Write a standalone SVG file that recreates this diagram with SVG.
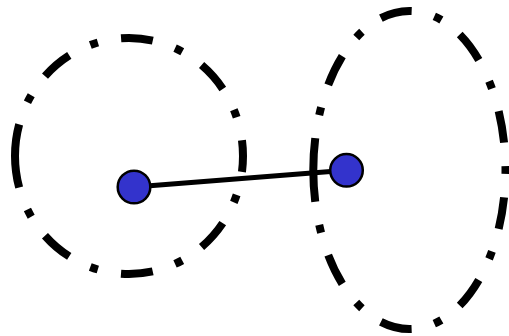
<svg xmlns="http://www.w3.org/2000/svg" width="509" height="336" viewBox="0 0 509 336">
  <style>
    .region { fill: none; stroke: #000; stroke-width: 8; stroke-linecap: butt; }
    .node { fill: #3333CC; stroke: #000; stroke-width: 2.5; }
    .edge { stroke: #000; stroke-width: 5; fill: none; }
  </style>
  <rect width="509" height="336" fill="#fff"/>
  <g id="region-left">
    <path class="region" pathLength="728.9" stroke-dasharray="32 23.56 8 23.56" d="M 15 156 A 114 118 0 1 1 243 156 A 114 118 0 1 1 15 156"/>
  </g>
  <g id="region-right">
    <path class="region" pathLength="813.7" stroke-dasharray="32 23.43 8 23.43" d="M 313.3 170 A 96.1 159 0 1 1 505.5 170 A 96.1 159 0 1 1 313.3 170"/>
  </g>
  <g id="connectors">
    <line class="edge" x1="134" y1="187" x2="346.5" y2="170.3"/>
  </g>
  <g id="node-a">
    <circle class="node" cx="134" cy="187" r="16.3"/>
  </g>
  <g id="node-b">
    <circle class="node" cx="346.5" cy="170.3" r="16.3"/>
  </g>
</svg>
